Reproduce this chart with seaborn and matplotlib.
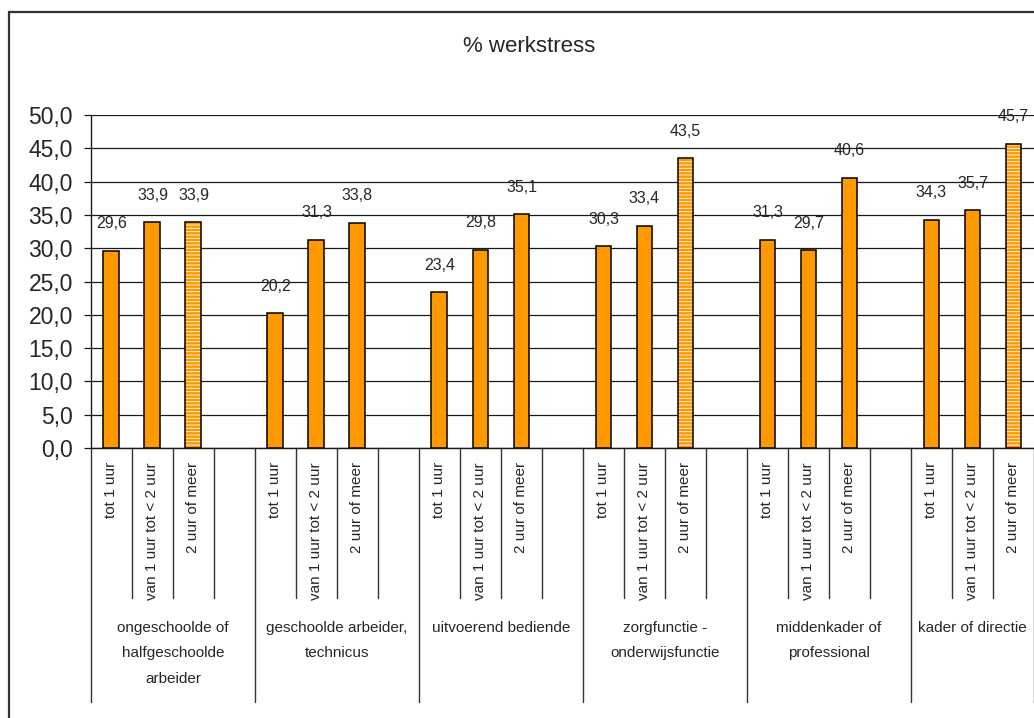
import matplotlib
matplotlib.use("Agg")
import matplotlib.pyplot as plt
from matplotlib import font_manager
from matplotlib.patches import Rectangle
from matplotlib.ticker import FuncFormatter
import pandas as pd
import seaborn as sns

# Occupational groups (x-axis, outer level)
groups = [
    "ongeschoolde of\nhalfgeschoolde\narbeider",
    "geschoolde arbeider,\ntechnicus",
    "uitvoerend bediende",
    "zorgfunctie -\nonderwijsfunctie",
    "middenkader of\nprofessional",
    "kader of directie",
]
# Time categories (x-axis, inner level)
durations = ["tot 1 uur", "van 1 uur tot < 2 uur", "2 uur of meer"]

# % werkstress per group, per duration
tot_1_uur = [29.6, 20.2, 23.4, 30.3, 31.3, 34.3]
van_1_tot_2_uur = [33.9, 31.3, 29.8, 33.4, 29.7, 35.7]
twee_uur_of_meer = [33.9, 33.8, 35.1, 43.5, 40.6, 45.7]

# Bars highlighted with a striped fill
striped = [
    [False, False, True],
    [False, False, False],
    [False, False, False],
    [False, False, True],
    [False, False, False],
    [False, False, True],
]

y_ticks = [0, 5, 10, 15, 20, 25, 30, 35, 40, 45, 50]
title = "% werkstress"

ORANGE = "#FF9900"

sns.set_style("white")
plt.rcParams["font.family"] = ["Liberation Sans", "DejaVu Sans"]
plt.rcParams["hatch.linewidth"] = 0.6

# narrow face for the value labels, if available
installed = {f.name for f in font_manager.fontManager.ttflist}
label_family = "Liberation Sans Narrow" if "Liberation Sans Narrow" in installed else "Liberation Sans"
label_size = 12.5 if label_family == "Liberation Sans Narrow" else 11.5

# Build slot layout: each group has its three bars plus a blank spacer slot
# (the last group has no trailing spacer)
series = [tot_1_uur, van_1_tot_2_uur, twee_uur_of_meer]
order, slot_labels, rows, group_spans = [], [], [], []
for g in range(len(groups)):
    start = len(order)
    for d, dur in enumerate(durations):
        key = f"g{g}_d{d}"
        order.append(key)
        slot_labels.append(dur)
        rows.append({"slot": key, "value": series[d][g],
                     "striped": striped[g][d], "pos": len(order) - 1})
    if g < len(groups) - 1:
        order.append(f"g{g}_blank")
        slot_labels.append("")
    group_spans.append((start, len(order)))
df = pd.DataFrame(rows)
n_slots = len(order)

fig = plt.figure(figsize=(10.34, 7.18), dpi=100)
ax = fig.add_axes([0.0880, 0.3760, 0.9120, 0.4638])

sns.barplot(data=df, x="slot", y="value", order=order, color=ORANGE,
            saturation=1, width=0.39, edgecolor="black", linewidth=1.1,
            errorbar=None, ax=ax, zorder=3)

# striped fill for highlighted bars
striped_pos = set(df.loc[df["striped"], "pos"])
for p in list(ax.patches):
    center = int(round(p.get_x() + p.get_width() / 2))
    if center in striped_pos:
        p.set_hatch("-----")
        p.set_edgecolor("white")
        p.set_linewidth(0)
        ax.add_patch(Rectangle(p.get_xy(), p.get_width(), p.get_height(),
                               fill=False, edgecolor="black", linewidth=1.1,
                               zorder=4))

# value labels
for _, r in df.iterrows():
    ax.annotate(f"{r['value']:.1f}".replace(".", ","), xy=(r["pos"], r["value"]),
                xytext=(0, 19.5), textcoords="offset points",
                ha="center", va="center", fontsize=label_size,
                family=label_family, zorder=5)

ax.set_xlim(-0.5, n_slots - 0.5)
ax.set_ylim(y_ticks[0], y_ticks[-1])
ax.set_yticks(y_ticks)
ax.yaxis.set_major_formatter(FuncFormatter(lambda v, _: f"{v:.1f}".replace(".", ",")))
ax.grid(axis="y", color="#1a1a1a", linewidth=0.9, zorder=0)
ax.grid(axis="x", visible=False)
ax.set_axisbelow(True)

ax.set_xticks(range(n_slots))
ax.set_xticklabels(slot_labels, rotation=90, fontsize=11)
ax.tick_params(axis="x", length=0, pad=10)
ax.tick_params(axis="y", length=5, width=0.9, color="#1a1a1a", pad=8,
               labelsize=16.5, left=True)
ax.set_xlabel("")
ax.set_ylabel("")

for s in ["top", "right"]:
    ax.spines[s].set_visible(False)
for s in ["left", "bottom"]:
    ax.spines[s].set_color("#1a1a1a")
    ax.spines[s].set_linewidth(1.0)

# category dividers below the axis
trans = ax.get_xaxis_transform()
group_edges = {gs[0] for gs in group_spans} | {group_spans[-1][1]}
for k in range(n_slots + 1):
    x = k - 0.5
    depth = -0.763 if k in group_edges else -0.4505
    ax.plot([x, x], [0, depth], transform=trans, color="#333333",
            linewidth=1.0, clip_on=False, zorder=1)

# group labels
for name, (a, b) in zip(groups, group_spans):
    ax.text((a + b - 1) / 2, -0.518, name, transform=trans, ha="center",
            va="top", fontsize=11, linespacing=2.05)

fig.text(529 / 1034, 1 - 47 / 718, title, ha="center", va="center", fontsize=16)

# chart area frame
fig.patches.append(Rectangle((8.5 / 1034, -0.05), 1.2, 1.05 - 12 / 718,
                             transform=fig.transFigure, fill=False,
                             edgecolor="#333333", linewidth=1.6))

fig.savefig("out.png", dpi=100)
